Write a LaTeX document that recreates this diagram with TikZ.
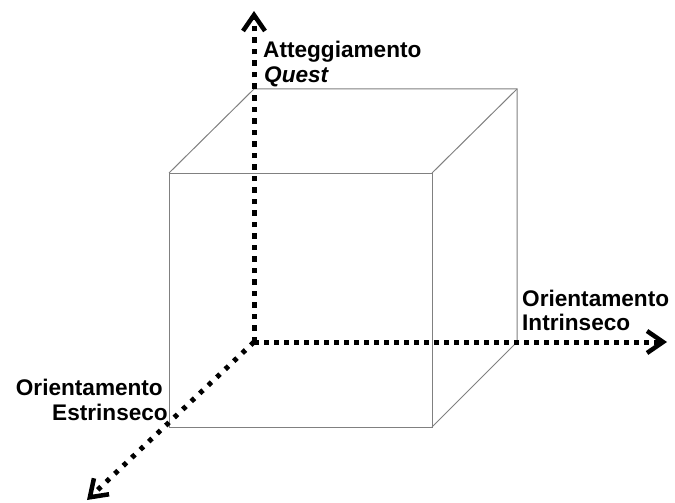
\documentclass[tikz,border=0pt]{standalone}
\usepackage{fontspec}
\setmainfont{Liberation Sans}
\usetikzlibrary{arrows.meta}
\usetikzlibrary{positioning}

\tikzset{
  axis/.style={line width=5pt, line cap=butt,
    -{Straight Barb[line width=4.5pt,length=16pt,width=22pt]}},
  cubeline/.style={draw=black!50, line width=1pt},
  axislabel/.style={font=\fontsize{22.6}{24.5}\selectfont\bfseries, inner sep=0pt}
}

\begin{document}
\begin{tikzpicture}[x=1pt,y=-1pt]
    \useasboundingbox (0,0) rectangle (675,503);
    % cube corners
    \coordinate (ftl) at (169,173);
    \coordinate (ftr) at (432,173);
    \coordinate (fbr) at (432,427);
    \coordinate (fbl) at (169,427);
    \coordinate (btl) at (254,89);
    \coordinate (btr) at (517,89);
    \coordinate (bbr) at (517,342);
    % axes
    \coordinate (origin) at (254,342);
    \coordinate (ztip) at (254,11);
    \coordinate (xtip) at (667,342);
    \coordinate (ytip) at (87,500);

    \draw[cubeline] (ftl) rectangle (fbr);
    \draw[cubeline] (ftl) -- (btl) -- (btr) -- (bbr) -- (fbr);
    \draw[cubeline] (ftr) -- (btr);

    \draw[axis,dash pattern=on 5.5pt off 6pt] (origin) -- (ztip);
    \draw[axis,dash pattern=on 5pt off 5pt] (origin) -- (xtip);
    \draw[axis,line width=5pt,dash pattern=on 4.5pt off 7.2pt] (origin) -- (ytip);

    % labels
    \node[axislabel,anchor=base west] (atteg) at (263,58) {Atteggiamento};
    \node[axislabel,anchor=base west] (quest) at (264,82) {\textit{Quest}};
    \node[axislabel,anchor=base west] (orintr) at (522,306) {Orientamento};
    \node[axislabel,anchor=base west] (intr) at (522,330) {Intrinseco};
    \node[axislabel,anchor=base east] (orestr) at (163,395) {Orientamento};
    \node[axislabel,anchor=base east] (estr) at (168,420) {Estrinseco};
\end{tikzpicture}
\end{document}
